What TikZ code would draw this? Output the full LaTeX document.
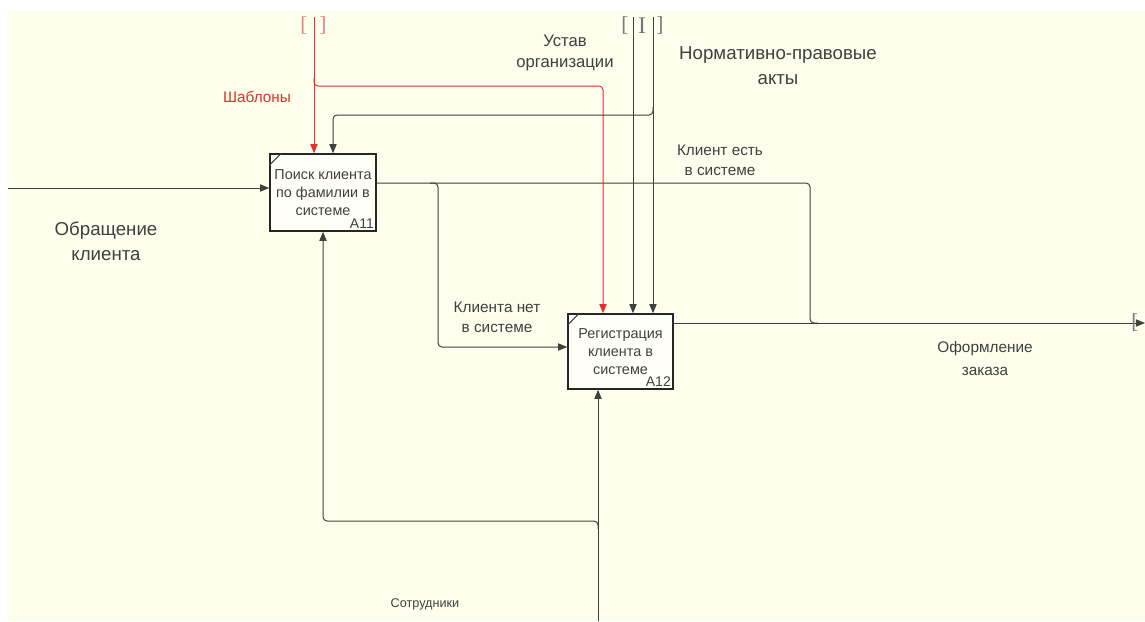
\documentclass[tikz,border=0pt]{standalone}
\usepackage{fontspec}
\setmainfont{Liberation Sans}
\newfontfamily\bracketfont{Liberation Serif}
\usetikzlibrary{arrows.meta}
\definecolor{paper}{RGB}{254,254,236}
\definecolor{ink}{RGB}{64,64,64}
\definecolor{redink}{RGB}{226,48,48}
\definecolor{tunnel}{RGB}{120,120,120}
\definecolor{redtunnel}{RGB}{228,130,130}
\begin{document}
\begin{tikzpicture}[x=0.75pt,y=-0.75pt,
  func/.style={draw=black!85, line width=1.1pt, fill=paper!40!white,
    text=ink, align=center, inner sep=1pt,
    font=\fontsize{10.8}{13.6}\selectfont},
  boxnum/.style={anchor=south east, inner sep=2pt, text=ink,
    font=\fontsize{10.5}{12}\selectfont},
  line/.style={draw=ink, line width=0.75pt, rounded corners=3pt},
  flow/.style={line, -{Triangle[length=6.8pt,width=5.4pt]}},
  flowred/.style={flow, draw=redink},
  lbl/.style={text=ink, align=center, inner sep=0pt},
  brk/.style={inner sep=0pt, font=\bracketfont\fontsize{16}{16}\selectfont}
]
% sheet
\useasboundingbox (0,0) rectangle (1145,621);
\fill[white] (0,0) rectangle (1145,621);
\fill[paper] (8,10) rectangle (1145,621);

% activity boxes
\node[func, minimum width=79.5pt, minimum height=57.75pt] (a11) at (323,192.5)
  {Поиск клиента\\по фамилии в\\системе};
\node[boxnum] (n11) at (a11.south east) {A11};
\draw[ink, line width=0.8pt] ([yshift=-9pt]a11.north west) -- ([xshift=9pt]a11.north west);

\node[func, minimum width=78.75pt, minimum height=56.25pt] (a12) at (620.5,351.5)
  {Регистрация\\клиента в\\системе};
\node[boxnum] (n12) at (a12.south east) {A12};
\draw[ink, line width=0.8pt] ([yshift=-9pt]a12.north west) -- ([xshift=9pt]a12.north west);

% input
\coordinate (src) at (8,188);
\draw[flow] (src) -- (src -| a11.west);

% outputs
\coordinate (fork) at (438,183);
\coordinate (join) at (810,323);
\coordinate (sink) at (1145,323);
\draw[line] (a11.east |- fork) -- (join |- fork) -- (join) -- ++(8,0);
\draw[flow] ([xshift=-6pt]fork) -- (fork) -- (fork |- 0,347) -- (a12.west |- 0,347);
\draw[flow] (a12.east |- sink) -- (sink);

% mechanism
\coordinate (staff) at (598,621);
\coordinate (mfork) at (598,521);
\draw[flow] (staff) -- (staff |- a12.south);
\draw[flow] ([yshift=-6pt]mfork) -- (mfork) -- (a11.south |- mfork) -- (a11.south);

% controls
\coordinate (tpl) at (314,17);
\coordinate (tplfork) at (314,86);
\draw[flowred] (tpl) -- (tpl |- a11.north);
\draw[flowred] ([yshift=6pt]tplfork) -- (tplfork) -- (tplfork -| 603,0) -- (603,0 |- a12.north);

\coordinate (ust) at (633,17);
\coordinate (npa) at (653,17);
\coordinate (npafork) at (653,115);
\draw[flow] (ust) -- (ust |- a12.north);
\draw[flow] (npa) -- (npa |- a12.north);
\draw[flow] ([yshift=6pt]npafork) -- (npafork) -- (npafork -| 333,0) -- (333,0 |- a11.north);

% tunnel brackets
\node[brk, text=redtunnel] (rbl) at (304,26) {[};
\node[brk, text=redtunnel] (rbr) at (323,26) {]};
\node[brk, text=tunnel] (bbl) at (625,26) {[};
\node[brk, text=tunnel, font=\bracketfont\fontsize{18}{18}\selectfont] (bbi) at (642,26) {I};
\node[brk, text=tunnel] (bbr) at (660,26) {]};
\node[brk, text=tunnel] (obr) at (1135,323) {[};

% arrow labels
\node[lbl, text=redink, font=\fontsize{11.5}{14}\selectfont] (tplt) at (257,97) {Шаблоны};
\node[lbl, font=\fontsize{12.5}{15.75}\selectfont] (ustt) at (565,52.5) {Устав\\организации};
\node[lbl, font=\fontsize{14}{18.75}\selectfont] (npat) at (778,65.5) {Нормативно-правовые\\акты};
\node[lbl, font=\fontsize{11.5}{15}\selectfont] (yes) at (720,160) {Клиент есть\\в системе};
\node[lbl, font=\fontsize{11.5}{15}\selectfont] (no) at (497,317) {Клиента нет\\в системе};
\node[lbl, font=\fontsize{14}{18.75}\selectfont] (obrt) at (106,241.5) {Обращение\\клиента};
\node[lbl, font=\fontsize{11.5}{17}\selectfont] (ordt) at (985,358.5) {Оформление\\заказа};
\node[lbl, font=\fontsize{9.5}{11}\selectfont] (stft) at (425,604) {Сотрудники};
\end{tikzpicture}
\end{document}
